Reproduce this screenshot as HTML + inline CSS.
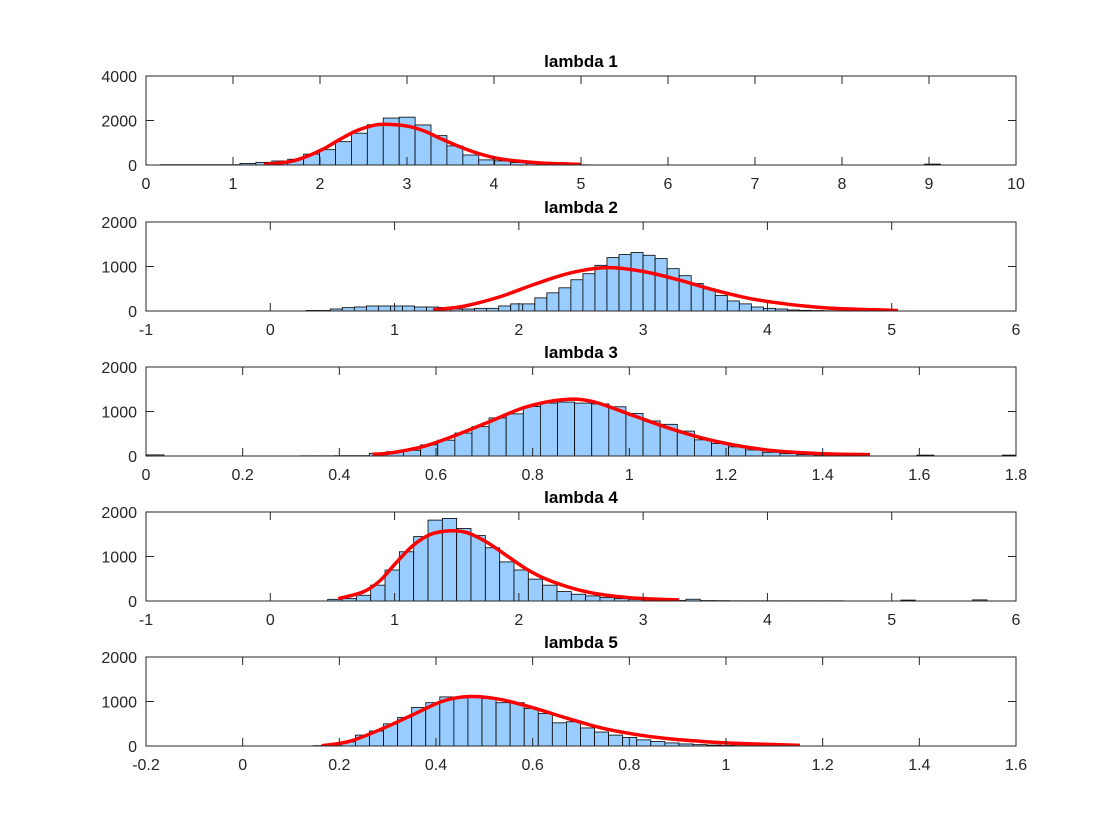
<!DOCTYPE html>
<html><head><meta charset="utf-8">
<style>
body{margin:0;background:#fff;}
svg{display:block;font-family:"Liberation Sans",sans-serif;}
</style></head>
<body>
<svg id="chart" width="1120" height="840" viewBox="0 0 1120 840"></svg>
<script>
// ---- data ----
const titles = ["lambda 1","lambda 2","lambda 3","lambda 4","lambda 5"];
const xTicks1 = [0,1,2,3,4,5,6,7,8,9,10];
const xTicks2 = [-1,0,1,2,3,4,5,6];
const xTicks3 = [0,0.2,0.4,0.6,0.8,1,1.2,1.4,1.6,1.8];
const xTicks4 = [-1,0,1,2,3,4,5,6];
const xTicks5 = [-0.2,0,0.2,0.4,0.6,0.8,1,1.2,1.4,1.6];
const yTicks1 = [0,2000,4000];
const yTicksN = [0,1000,2000];
const binStarts = [0.165,0.289,0.0018,0.462,0.146];
const binWidths = [0.183,0.0968,0.0354,0.1153,0.0291];
const counts1 = [15,15,15,15,15,70,120,180,260,490,690,1050,1430,1810,2110,2150,1800,1320,860,450,230,185,110,70,40,20,10,5,5,5,0,0,0,0,0,0,0,0,0,0,0,0,0,0,0,0,0,0,40];
const counts2 = [12,12,45,75,90,113,113,113,113,90,90,80,45,45,60,60,113,160,160,295,408,521,702,838,1027,1200,1268,1314,1253,1178,951,793,619,498,347,226,160,90,60,45,23,15,10,6,4];
const counts3 = [25,0,0,0,0,0,0,0,0,5,5,8,8,61,98,129,250,356,515,659,856,947,1114,1189,1212,1189,1170,1106,955,788,712,560,363,280,205,136,83,53,30,23,15,8,0,0,0,20,0,0,0,0,20];
const counts4 = [38,53,129,356,697,1106,1447,1818,1856,1629,1470,1197,879,697,492,356,212,152,114,76,53,38,25,18,12,40,10,8,5,5,5,5,5,5,5,5,0,0,0,0,20,0,0,0,0,25];
const counts5 = [8,30,92,245,337,498,644,866,973,1103,1103,1088,1065,973,973,843,728,521,544,406,314,245,192,138,100,69,46,30,20,12,8];
const fitX1 = [1.356,1.655,1.847,2.04,2.23,2.42,2.61,2.75,3.0,3.19,3.38,3.57,3.77,3.96,4.15,4.54,4.77,5.0];
const fitY1 = [20,154,385,723,1154,1538,1780,1830,1750,1538,1200,877,585,369,231,92,55,25];
const fitX2 = [1.31,1.561,1.848,2.135,2.423,2.71,2.997,3.284,3.572,3.86,4.146,4.32,4.6,5.05];
const fitY2 = [25,110,320,610,860,974,890,700,470,280,159,106,50,12];
const fitX3 = [0.4686,0.51,0.578,0.647,0.716,0.785,0.861,0.923,1.008,1.077,1.146,1.215,1.284,1.353,1.42,1.498];
const fitY3 = [38,76,227,492,795,1098,1265,1227,909,644,417,250,136,76,45,30];
const fitX4 = [0.547,0.748,0.882,1.016,1.15,1.285,1.432,1.58,1.74,1.9,2.06,2.22,2.44,2.65,2.92,3.29];
const fitY4 = [53,205,455,871,1250,1492,1576,1538,1326,1023,720,492,280,152,68,23];
const fitX5 = [0.1635,0.222,0.291,0.36,0.415,0.47,0.532,0.601,0.67,0.739,0.808,0.877,0.946,1.015,1.153];
const fitY5 = [5,107,398,743,1011,1111,1049,858,628,414,268,169,107,61,15];

// ---- layout ----
const NS="http://www.w3.org/2000/svg";
const svg=document.getElementById('chart');
const L=146,R=1016;
const tops=[76,222,367,512,657];
const H=89;
const xr=[[0,10],[-1,6],[0,1.8],[-1,6],[-0.2,1.6]];
const yr=[[0,4000],[0,2000],[0,2000],[0,2000],[0,2000]];
const allX=[xTicks1,xTicks2,xTicks3,xTicks4,xTicks5];
const allY=[yTicks1,yTicksN,yTicksN,yTicksN,yTicksN];
const allC=[counts1,counts2,counts3,counts4,counts5];
const allFX=[fitX1,fitX2,fitX3,fitX4,fitX5];
const allFY=[fitY1,fitY2,fitY3,fitY4,fitY5];
function mk(tag,attrs,parent){const e=document.createElementNS(NS,tag);for(const k in attrs)e.setAttribute(k,attrs[k]);(parent||svg).appendChild(e);return e;}
function spline(pts){let d=`M${pts[0][0]},${pts[0][1]}`;for(let i=0;i<pts.length-1;i++){const p0=pts[Math.max(0,i-1)],p1=pts[i],p2=pts[i+1],p3=pts[Math.min(pts.length-1,i+2)];const c1=[p1[0]+(p2[0]-p0[0])/6,p1[1]+(p2[1]-p0[1])/6];const c2=[p2[0]-(p3[0]-p1[0])/6,p2[1]-(p3[1]-p1[1])/6];d+=`C${c1[0]},${c1[1]} ${c2[0]},${c2[1]} ${p2[0]},${p2[1]}`;}return d;}
const defs=mk('defs',{});
for(let p=0;p<5;p++){
  const T=tops[p],B=T+H;
  const sx=v=>L+(v-xr[p][0])/(xr[p][1]-xr[p][0])*(R-L);
  const sy=v=>B-(v-yr[p][0])/(yr[p][1]-yr[p][0])*H;
  const cp=mk('clipPath',{id:'c'+p},defs);mk('rect',{x:L,y:T,width:R-L,height:H},cp);
  const g=mk('g',{});
  
  
  const bg=mk('rect',{x:L,y:T,width:R-L,height:H,fill:'#fff'},g);
  
  
  const bars=mk('g',{'clip-path':`url(#c${p})`},g);
  
  
  allC[p].forEach((c,i)=>{
    const x0=binStarts[p]+i*binWidths[p],x1=x0+binWidths[p];
    const r=mk('rect',{x:sx(x0),y:sy(c),width:sx(x1)-sx(x0),height:sy(0)-sy(c),fill:'#99ccff',stroke:'#000','stroke-width':0.8},bars);
    
    
  });
  const pts=allFX[p].map((x,i)=>[sx(x),sy(allFY[p][i])]);
  const fit=mk('path',{d:spline(pts),fill:'none',stroke:'#ff0000','stroke-width':3.5,'stroke-linejoin':'round','clip-path':`url(#c${p})`},g);
  
  
  const box=mk('rect',{x:L,y:T,width:R-L,height:H,fill:'none',stroke:'#262626','stroke-width':1},g);
  
  
  allX[p].forEach(v=>{
    const x=sx(v);
    mk('line',{x1:x,x2:x,y1:B,y2:B-8,stroke:'#262626'},g);
    mk('line',{x1:x,x2:x,y1:T,y2:T+8,stroke:'#262626'},g);
    const t=mk('text',{x:x,y:B+24,'text-anchor':'middle','font-size':16,fill:'#262626'},g);
    t.textContent=String(v);
    
    
  });
  allY[p].forEach(v=>{
    const y=sy(v);
    mk('line',{x1:L,x2:L+8,y1:y,y2:y,stroke:'#262626'},g);
    mk('line',{x1:R,x2:R-8,y1:y,y2:y,stroke:'#262626'},g);
    const t=mk('text',{x:L-9,y:y+6,'text-anchor':'end','font-size':16,fill:'#262626'},g);
    t.textContent=String(v);
    
    
  });
  const tt=mk('text',{x:(L+R)/2,y:T-9,'text-anchor':'middle','font-size':17,'font-weight':'bold',fill:'#000'},g);
  tt.textContent=titles[p];
  
  
}
</script>
</body></html>
